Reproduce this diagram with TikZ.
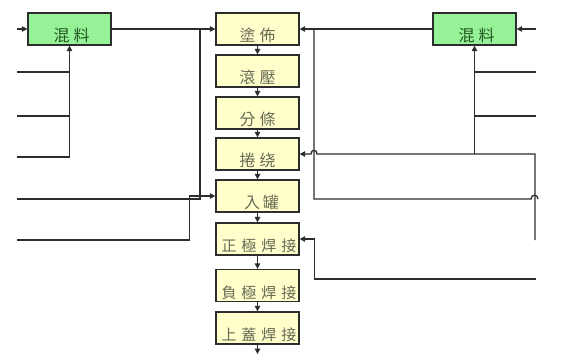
\documentclass[tikz,border=0pt]{standalone}
\usepackage{fontspec}
\newfontfamily\cjk{Noto Sans CJK TC}
\usetikzlibrary{arrows.meta}
\definecolor{boxfill}{RGB}{255,255,204}
\definecolor{greenfill}{RGB}{150,242,150}
\definecolor{linec}{RGB}{45,45,45}
\definecolor{ytext}{RGB}{105,105,85}
\definecolor{gtext}{RGB}{35,85,35}
\newcommand\lowtext[1]{\raisebox{-12.5pt}[0pt][0pt]{#1}}
\begin{document}
\begin{tikzpicture}[x=1pt,y=-1pt,
  proc/.style={draw=linec, line width=1.3pt, fill=boxfill, minimum width=83pt,
    minimum height=32pt, inner sep=0pt, text=ytext,
    font=\cjk\fontsize{16pt}{16pt}\selectfont},
  weld/.style={proc, font=\cjk\fontsize{15pt}{16pt}\selectfont},
  mix/.style={proc, fill=greenfill, text=gtext},
  conn/.style={draw=linec, line width=1.3pt},
  arr/.style={conn, -{Triangle[length=5.5pt,width=5.5pt]}},
]
\useasboundingbox (0,0) rectangle (562,362);

% boxes
\node[mix] (mixL) at (69.5,29) {\lowtext{\hspace{4pt}混\hspace{4pt}料}};
\node[mix] (mixR) at (474.5,29) {\lowtext{\hspace{4pt}混\hspace{4pt}料}};
\node[proc] (b1) at (257.5,29) {\lowtext{塗\hspace{4pt}佈}};
\node[proc] (b2) at (257.5,71) {\lowtext{滾\hspace{4pt}壓}};
\node[proc] (b3) at (257.5,113) {\lowtext{分\hspace{4pt}條}};
\node[proc] (b4) at (257.5,154) {\lowtext{捲\hspace{4pt}绕}};
\node[proc] (b5) at (257.5,196) {\lowtext{\hspace{8pt}入\hspace{3pt}罐}};
\node[weld] (b6) at (257.5,239) {\lowtext{\hspace{3pt}正\hspace{5pt}極\hspace{5pt}焊\hspace{5pt}接}};
\node[weld] (b7) at (257.5,285.5) {\lowtext{\hspace{3pt}負\hspace{5pt}極\hspace{5pt}焊\hspace{5pt}接}};
\node[weld] (b8) at (257.5,328) {\lowtext{\hspace{3pt}上\hspace{5pt}蓋\hspace{5pt}焊\hspace{5pt}接}};

% main chain
\draw[arr] (b1.south) -- (b2.north);
\draw[arr] (b2.south) -- (b3.north);
\draw[arr] (b3.south) -- (b4.north);
\draw[arr] (b4.south) -- (b5.north);
\draw[arr] (b5.south) -- (b6.north);
\draw[arr] (b6.south) -- (b7.north);
\draw[arr] (b7.south) -- (b8.north);
\coordinate (out) at (257.5,354);
\draw[arr] (b8.south) -- (out);

% free ends
\coordinate (inL) at (17,29);
\coordinate (inR) at (536,29);
\coordinate (l72) at (17,72);
\coordinate (l116) at (17,116);
\coordinate (l157) at (17,157);
\coordinate (l199) at (17,199);
\coordinate (l240) at (17,240);
\coordinate (r72) at (536,72);
\coordinate (r116) at (536,116);
\coordinate (r240) at (535,240);
\coordinate (r279) at (536,279);
\coordinate (jL) at (200,29);
\coordinate (jR) at (314,29);

% mixers to coating
\draw[arr] (inL) -- (mixL.west);
\draw[arr] (inR) -- (mixR.east);
\draw[arr] (mixL.east) -- (b1.west);
\draw[arr] (mixR.west) -- (b1.east);

% left side
\draw[arr] (l157) -| (mixL.south);
\draw[conn] (l116) -- (l116 -| mixL.south);
\draw[conn] (l72) -- (l72 -| mixL.south);
\draw[conn] (l199) -| (jL);
\draw[arr] (l240) -| ([xshift=-26pt]b5.west) -- (b5.west);

% right side
\draw[arr] (mixR.south |- b4.east) -- (mixR.south);
\draw[conn] (r116) -- (r116 -| mixR.south);
\draw[conn] (r72) -- (r72 -| mixR.south);
\draw[arr] (r240) -- (r240 |- b4.east) -- (317,154)
  .. controls (317,149) and (311,149) .. (311,154) -- (b4.east);
\draw[conn] (jR) -- (314,199) -- (531,199)
  .. controls (531,194) and (538,194) .. (538,199);
\draw[arr] (r279) -| ([xshift=15pt]b6.east) -- (b6.east);
\end{tikzpicture}
\end{document}
